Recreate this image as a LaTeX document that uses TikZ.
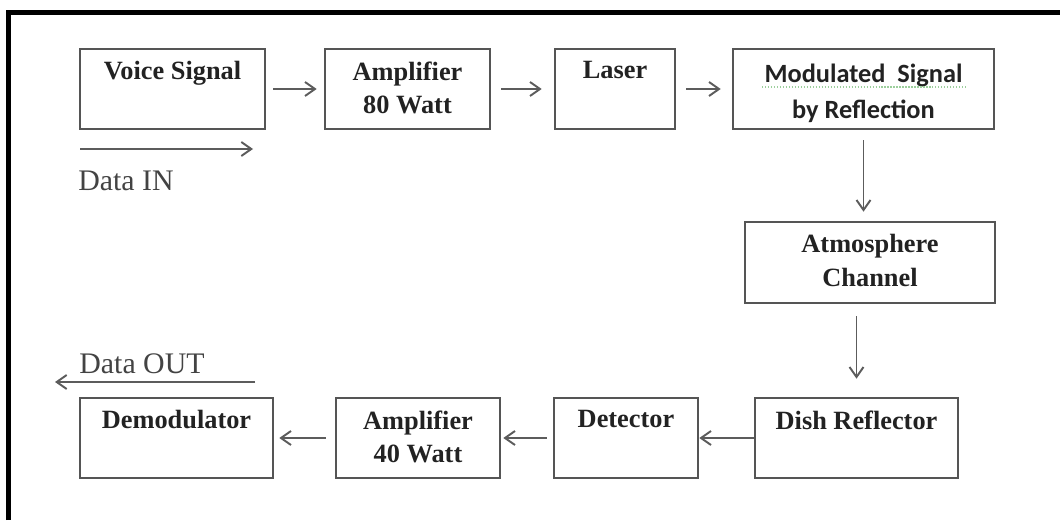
\documentclass[tikz,border=0pt]{standalone}
\usepackage{fontspec}
\setmainfont{Liberation Serif}
\newfontfamily\kalibri{Carlito}
\usepackage{tikz}
\usetikzlibrary{arrows.meta}
\definecolor{kutuGri}{HTML}{555555}
\definecolor{okGri}{HTML}{5C5C5C}
\definecolor{yaziSiyah}{HTML}{222222}
\definecolor{imlaYesil}{HTML}{9CCF9C}

\begin{document}
\begin{tikzpicture}[x=0.02cm,y=-0.02cm,
  kutu/.style={draw=kutuGri,line width=1.5pt,minimum height=1.6cm,inner sep=0pt},
  yazi/.style={anchor=north,inner sep=0pt,yshift=-0.27cm,align=center,yaziSiyah,
    font=\fontsize{15}{19}\selectfont\bfseries},
  ok/.style={draw=okGri,line width=1.1pt,-{Straight Barb[length=2mm,width=2.8mm]}},
  veri/.style={inner sep=0pt,yaziSiyah!85,font=\fontsize{17}{20}\selectfont}]
\useasboundingbox (0,0) rectangle (1060,520);
% dis cerceve
\draw[line width=3.3pt] (8.5,520) -- (8.5,12.5) -- (1060,12.5);
% ust sira
\node[kutu,minimum width=3.7cm,label={[yazi]north:Voice Signal}] (ses) at (172.5,89) {};
\node[kutu,minimum width=3.3cm,label={[yazi]north:Amplifier\\80 Watt}] (yuk80) at (407.5,89) {};
\node[kutu,minimum width=2.4cm,label={[yazi]north:Laser}] (lazer) at (615,89) {};
\node[kutu,minimum width=5.22cm,label={[yazi,yshift=-0.05cm,font=\kalibri\fontsize{15}{20.5}\selectfont\bfseries]north:Modulated\ \ Signal\\by Reflection}] (modul) at (863.5,89) {};
\draw[imlaYesil,densely dotted,line width=0.7pt] (762,87) -- (968,87);
% kanal
\node[kutu,minimum width=5cm,minimum height=1.62cm,label={[yazi]north:Atmosphere\\Channel}] (kanal) at (870,262.5) {};
% alt sira
\node[kutu,minimum width=4.06cm,label={[yazi]north:Dish Reflector}] (canak) at (856.5,438) {};
\node[kutu,minimum width=2.88cm,label={[yazi]north:Detector}] (dedektor) at (626,438) {};
\node[kutu,minimum width=3.28cm,label={[yazi]north:Amplifier\\40 Watt}] (yuk40) at (418,438) {};
\node[kutu,minimum width=3.86cm,label={[yazi]north:Demodulator}] (demod) at (176.5,438) {};
% oklar
\draw[ok,shorten <=0.14cm,shorten >=0.14cm] (ses) -- (yuk80);
\draw[ok,shorten <=0.2cm,shorten >=0.24cm] (yuk80) -- (lazer);
\draw[ok,shorten <=0.2cm,shorten >=0.22cm] (lazer) -- (modul);
\draw[ok,shorten <=0.2cm,shorten >=0.18cm] (modul) -- (modul |- kanal.north);
\draw[ok,shorten <=0.24cm,shorten >=0.36cm] (kanal.south -| canak) -- (canak);
\draw[ok] (canak) -- (dedektor);
\draw[ok,shorten <=0.12cm,shorten >=0.04cm] (dedektor) -- (yuk40);
\draw[ok,shorten <=0.18cm,shorten >=0.1cm] (yuk40) -- (demod);
% veri giris / cikis
\coordinate (girisA) at (80,149);
\coordinate (girisB) at (253,149);
\draw[ok] (girisA) -- (girisB);
\node[veri] (giris) at (126,181) {Data IN};
\coordinate (cikisA) at (255,382);
\coordinate (cikisB) at (55,382);
\draw[ok] (cikisA) -- (cikisB);
\node[veri] (cikis) at (142,364) {Data OUT};
\end{tikzpicture}
\end{document}
